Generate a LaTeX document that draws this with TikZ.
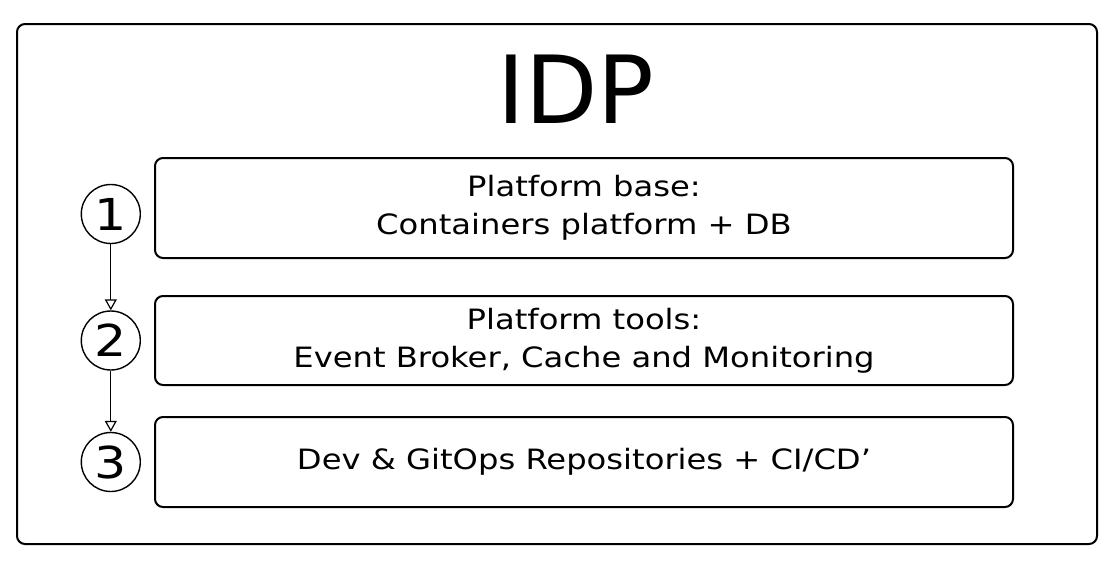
\documentclass[tikz,border=0pt]{standalone}
\usepackage{fontspec}
\setmainfont{DejaVu Sans}[FakeStretch=1.15]
\newfontfamily\titlefont{DejaVu Sans}
\usetikzlibrary{positioning,arrows.meta}
\tikzset{
    frame/.style={draw, line width=2pt, rounded corners=8pt,
        minimum width=1080pt, minimum height=520pt},
    layer/.style={draw, line width=2pt, rounded corners=8pt,
        minimum width=858pt, inner sep=0pt, align=center,
        font=\fontsize{28}{38}\selectfont},
    stepnum/.style={draw, circle, line width=1.4pt, minimum size=59pt,
        inner sep=0pt, font=\fontsize{44}{44}\selectfont},
    flow/.style={-{Triangle[open,length=11pt,width=12pt]}, line width=1.2pt}
}

\begin{document}
\begin{tikzpicture}[x=1pt,y=-1pt]
\useasboundingbox (0,0) rectangle (1120,570);

\node[frame] (outer) at (557,284) {};
\node (idp) at (576,89) {\titlefont\fontsize{94}{94}\selectfont IDP};

\node[layer, minimum height=100pt] (base) at (584,208)
    {Platform base:\\Containers platform + DB};
\node[layer, minimum height=89pt, below=36pt of base] (tools)
    {Platform tools:\\Event Broker, Cache and Monitoring};
\node[layer, minimum height=90pt, below=30pt of tools] (repos)
    {Dev \& GitOps Repositories + CI/CD'};

\node[stepnum, left=13pt of base, yshift=-6pt] (one) {1};
\node[stepnum, left=13pt of tools] (two) {2};
\node[stepnum, left=13pt of repos] (three) {3};

\draw[flow] (one) -- (two);
\draw[flow] (two) -- (three);
\end{tikzpicture}
\end{document}
